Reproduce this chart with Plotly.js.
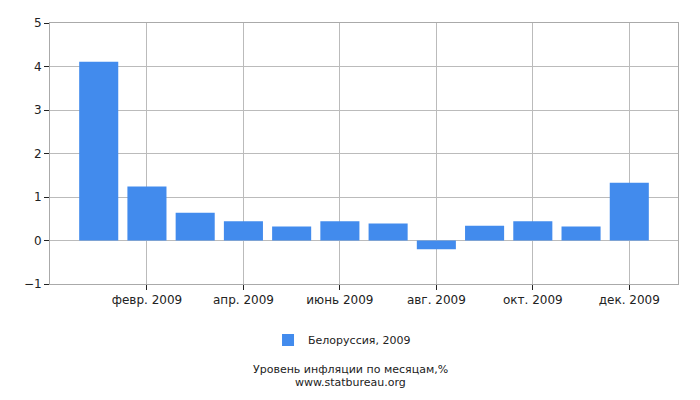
<!DOCTYPE html>
<html>
<head>
<meta charset="utf-8">
<script src="https://cdn.plot.ly/plotly-3.0.1.min.js"></script>
<style>
  html, body { margin: 0; padding: 0; background: #fff; }
  #chart { width: 700px; height: 400px; }
</style>
</head>
<body>
<div id="chart"></div>
<script>
// === ДАННЫЕ ===
const months = ['янв. 2009', 'февр. 2009', 'март 2009', 'апр. 2009', 'май 2009', 'июнь 2009',
                'июль 2009', 'авг. 2009', 'сент. 2009', 'окт. 2009', 'нояб. 2009', 'дек. 2009'];
const inflation = [4.11, 1.24, 0.64, 0.44, 0.32, 0.44, 0.39, -0.2, 0.34, 0.44, 0.32, 1.33];
const tickMonths = ['февр. 2009', 'апр. 2009', 'июнь 2009', 'авг. 2009', 'окт. 2009', 'дек. 2009'];
const seriesName = 'Белоруссия, 2009';
const chartTitle = 'Уровень инфляции по месяцам,%';
const source = 'www.statbureau.org';

const font = 'DejaVu Sans, sans-serif';

const trace = {
    type: 'bar',
    x: months,
    y: inflation,
    name: seriesName,
    marker: { color: '#428bed', line: { width: 0 } },
    hoverinfo: 'x+y'
};

const layout = {
    width: 700,
    height: 400,
    margin: { l: 50, r: 22, t: 23, b: 116 },
    paper_bgcolor: '#ffffff',
    plot_bgcolor: '#ffffff',
    font: { family: font, size: 12, color: '#222' },
    bargap: 0.19,
    showlegend: true,
    legend: {
        orientation: 'h',
        x: 0.465, xanchor: 'center',
        y: -0.215, yanchor: 'middle',
        font: { family: font, size: 11, color: '#222' }
    },
    xaxis: {
        type: 'category',
        range: [-1.01, 12.01],
        tickvals: tickMonths,
        ticktext: tickMonths,
        showgrid: true,
        gridcolor: '#bbbbbb',
        gridwidth: 1,
        ticks: 'outside',
        ticklen: 5,
        tickcolor: '#222',
        showline: true,
        linecolor: '#aaaaaa',
        mirror: true,
        tickfont: { family: font, size: 12, color: '#222' },
        fixedrange: true
    },
    yaxis: {
        range: [-1, 5],
        dtick: 1,
        tick0: 0,
        showgrid: true,
        gridcolor: '#bbbbbb',
        gridwidth: 1,
        zeroline: true,
        zerolinecolor: '#bbbbbb',
        zerolinewidth: 1,
        ticks: 'outside',
        ticklen: 5,
        tickcolor: '#222',
        showline: true,
        linecolor: '#aaaaaa',
        mirror: true,
        tickfont: { family: font, size: 12, color: '#222' },
        fixedrange: true
    },
    annotations: [
        {
            text: chartTitle,
            xref: 'paper', yref: 'paper',
            x: 0.478, y: -0.326,
            xanchor: 'center', yanchor: 'middle',
            showarrow: false,
            font: { family: font, size: 11, color: '#222' }
        },
        {
            text: source,
            xref: 'paper', yref: 'paper',
            x: 0.478, y: -0.376,
            xanchor: 'center', yanchor: 'middle',
            showarrow: false,
            font: { family: font, size: 11, color: '#222' }
        }
    ]
};

Plotly.newPlot('chart', [trace], layout, { displayModeBar: false, staticPlot: true });
</script>
</body>
</html>
